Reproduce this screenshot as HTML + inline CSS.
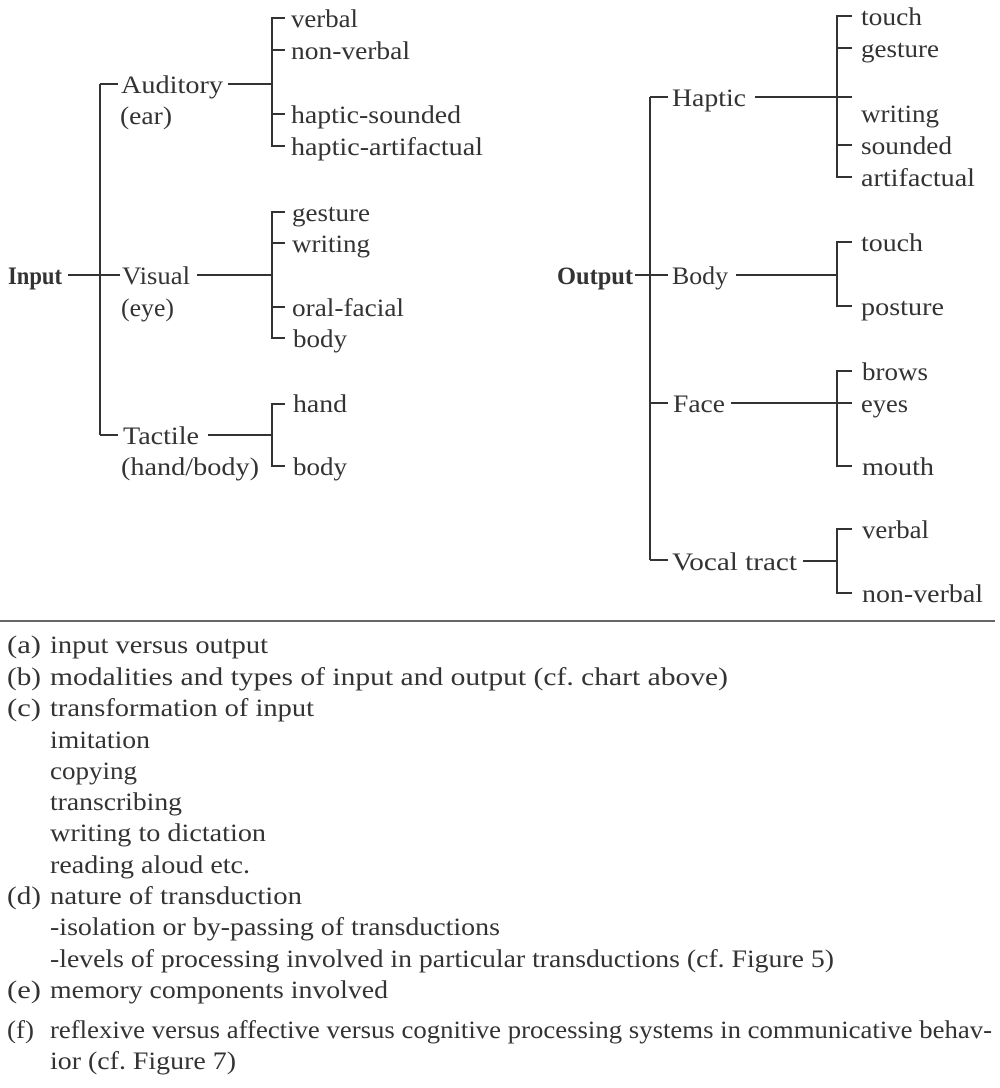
<!DOCTYPE html>
<html><head><meta charset="utf-8"><style>
html,body{margin:0;padding:0;background:#fff;}
svg{display:block;}
text{font-family:"Liberation Serif",serif;font-size:25px;fill:#333;}
.b{font-weight:bold;}
</style></head><body>
<svg width="1000" height="1088" viewBox="0 0 1000 1088" xmlns="http://www.w3.org/2000/svg">
<g stroke="#333" stroke-width="2" fill="none">
<path d="M68 275H120 M100 84V435 M100 84H118 M100 435H118"/>
<path d="M228 84H272 M285 18H272V146H285 M272 50H285 M272 114H285"/>
<path d="M197 275H272 M285 212H272V338H285 M272 243H285 M272 307H285"/>
<path d="M208 435H272 M285 404H272V466H285"/>
<path d="M635 275H668 M650 97V560 M650 97H668 M650 560H668 M650 403H668"/>
<path d="M755 97H852 M852 16H837V177H852 M837 48H852 M837 145H852"/>
<path d="M736 275H837 M852 242H837V306H852"/>
<path d="M731 403H852 M852 371H837V466H852"/>
<path d="M803 561H837 M852 529H837V593H852"/>
<path d="M0 621H995" stroke-width="1.5"/>
</g>
<g lengthAdjust="spacingAndGlyphs">
<text x="8" y="284" class="b" textLength="54" lengthAdjust="spacingAndGlyphs">Input</text>
<text x="121" y="93" textLength="102" lengthAdjust="spacingAndGlyphs">Auditory</text>
<text x="120" y="124" textLength="52" lengthAdjust="spacingAndGlyphs">(ear)</text>
<text x="122" y="284" textLength="68" lengthAdjust="spacingAndGlyphs">Visual</text>
<text x="121" y="316" textLength="53" lengthAdjust="spacingAndGlyphs">(eye)</text>
<text x="123" y="444" textLength="76" lengthAdjust="spacingAndGlyphs">Tactile</text>
<text x="121" y="475" textLength="138" lengthAdjust="spacingAndGlyphs">(hand/body)</text>
<text x="291" y="27" textLength="67" lengthAdjust="spacingAndGlyphs">verbal</text>
<text x="291" y="59" textLength="119" lengthAdjust="spacingAndGlyphs">non-verbal</text>
<text x="291" y="123" textLength="170" lengthAdjust="spacingAndGlyphs">haptic-sounded</text>
<text x="291" y="155" textLength="192" lengthAdjust="spacingAndGlyphs">haptic-artifactual</text>
<text x="292" y="221" textLength="78" lengthAdjust="spacingAndGlyphs">gesture</text>
<text x="292" y="252" textLength="78" lengthAdjust="spacingAndGlyphs">writing</text>
<text x="292" y="316" textLength="112" lengthAdjust="spacingAndGlyphs">oral-facial</text>
<text x="293" y="347" textLength="54" lengthAdjust="spacingAndGlyphs">body</text>
<text x="293" y="412" textLength="54" lengthAdjust="spacingAndGlyphs">hand</text>
<text x="293" y="475" textLength="54" lengthAdjust="spacingAndGlyphs">body</text>

<text x="557" y="284" class="b" textLength="76" lengthAdjust="spacingAndGlyphs">Output</text>
<text x="672" y="106" textLength="74" lengthAdjust="spacingAndGlyphs">Haptic</text>
<text x="672" y="284" textLength="56" lengthAdjust="spacingAndGlyphs">Body</text>
<text x="673" y="412" textLength="52" lengthAdjust="spacingAndGlyphs">Face</text>
<text x="672" y="570" textLength="125" lengthAdjust="spacingAndGlyphs">Vocal tract</text>
<text x="861" y="25" textLength="61" lengthAdjust="spacingAndGlyphs">touch</text>
<text x="861" y="57" textLength="78" lengthAdjust="spacingAndGlyphs">gesture</text>
<text x="861" y="122" textLength="78" lengthAdjust="spacingAndGlyphs">writing</text>
<text x="861" y="154" textLength="91" lengthAdjust="spacingAndGlyphs">sounded</text>
<text x="861" y="186" textLength="114" lengthAdjust="spacingAndGlyphs">artifactual</text>
<text x="861" y="251" textLength="62" lengthAdjust="spacingAndGlyphs">touch</text>
<text x="861" y="315" textLength="83" lengthAdjust="spacingAndGlyphs">posture</text>
<text x="862" y="380" textLength="66" lengthAdjust="spacingAndGlyphs">brows</text>
<text x="861" y="412" textLength="47" lengthAdjust="spacingAndGlyphs">eyes</text>
<text x="862" y="475" textLength="72" lengthAdjust="spacingAndGlyphs">mouth</text>
<text x="862" y="538" textLength="67" lengthAdjust="spacingAndGlyphs">verbal</text>
<text x="862" y="602" textLength="121" lengthAdjust="spacingAndGlyphs">non-verbal</text>

<text x="7" y="653" textLength="34" lengthAdjust="spacingAndGlyphs">(a)</text><text x="50" y="653" textLength="218" lengthAdjust="spacingAndGlyphs">input versus output</text>
<text x="7" y="685" textLength="34" lengthAdjust="spacingAndGlyphs">(b)</text><text x="50" y="685" textLength="678" lengthAdjust="spacingAndGlyphs">modalities and types of input and output (cf. chart above)</text>
<text x="7" y="716" textLength="34" lengthAdjust="spacingAndGlyphs">(c)</text><text x="50" y="716" textLength="264" lengthAdjust="spacingAndGlyphs">transformation of input</text>
<text x="50" y="748" textLength="100" lengthAdjust="spacingAndGlyphs">imitation</text>
<text x="50" y="779" textLength="87" lengthAdjust="spacingAndGlyphs">copying</text>
<text x="50" y="810" textLength="132" lengthAdjust="spacingAndGlyphs">transcribing</text>
<text x="50" y="841" textLength="216" lengthAdjust="spacingAndGlyphs">writing to dictation</text>
<text x="50" y="873" textLength="200" lengthAdjust="spacingAndGlyphs">reading aloud etc.</text>
<text x="7" y="904" textLength="34" lengthAdjust="spacingAndGlyphs">(d)</text><text x="50" y="904" textLength="252" lengthAdjust="spacingAndGlyphs">nature of transduction</text>
<text x="50" y="935" textLength="450" lengthAdjust="spacingAndGlyphs">-isolation or by-passing of transductions</text>
<text x="50" y="967" textLength="784" lengthAdjust="spacingAndGlyphs">-levels of processing involved in particular transductions (cf. Figure 5)</text>
<text x="7" y="998" textLength="34" lengthAdjust="spacingAndGlyphs">(e)</text><text x="50" y="998" textLength="338" lengthAdjust="spacingAndGlyphs">memory components involved</text>
<text x="7" y="1038" textLength="27" lengthAdjust="spacingAndGlyphs">(f)</text><text x="50" y="1038" textLength="942" lengthAdjust="spacingAndGlyphs">reflexive versus affective versus cognitive processing systems in communicative behav-</text>
<text x="50" y="1069" textLength="186" lengthAdjust="spacingAndGlyphs">ior (cf. Figure 7)</text>
</g>
</svg>
</body></html>
